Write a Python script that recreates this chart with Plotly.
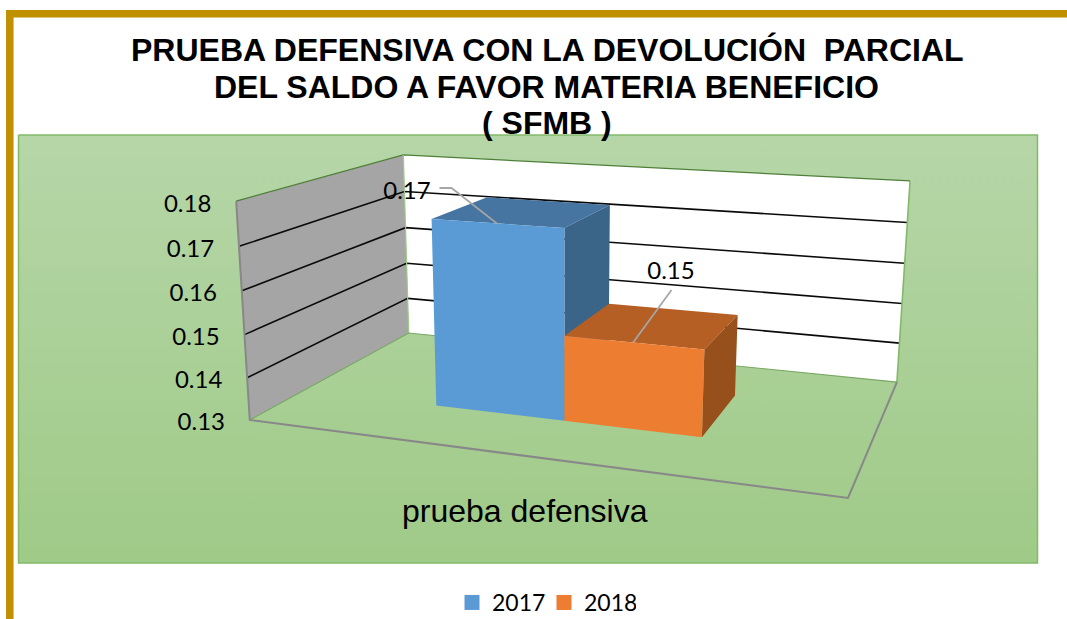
import numpy as np
import plotly.graph_objects as go

# ---- data ----
YEARS = ["2017", "2018"]
VALUES = [0.1742, 0.1499]
AXIS_TICKS = [0.13, 0.14, 0.15, 0.16, 0.17, 0.18]
CATEGORY = "prueba defensiva"
TITLE_LINES = ["PRUEBA DEFENSIVA CON LA DEVOLUCIÓN\u00a0\u00a0PARCIAL",
               "DEL SALDO A FAVOR MATERIA BENEFICIO",
               "( SFMB )"]

# ---- styles ----
FRONT = ["#5B9BD5", "#ED7D31"]
TOP = ["#4675A2", "#B55F24"]
SIDE = ["#3A6488", "#97501C"]
GOLD = "#BF9000"
FONT = "Lato"

# ---- pseudo-3D scale: (x across, depth, value) -> plot axes ----
PROJ = np.array([[473.03812559567626, 257.07761294413393, -23.418241062862666, 249.79289834942966],
                 [4.452430799153005, -6.99070321694181, -227.22737423786657, 419.96797749845],
                 [-0.14765168030115206, 0.24018020115136096, -0.04149489628558456, 1.0]])
VMIN, VMAX = AXIS_TICKS[0], AXIS_TICKS[-1]


def pt(x, d, v):
    q = PROJ @ np.array([x, d, (v - VMIN) / (VMAX - VMIN), 1.0])
    return q[0] / q[2], q[1] / q[2]


def xs_ys(points):
    a = [pt(*p) for p in points]
    return [c[0] for c in a], [c[1] for c in a]


fig = go.Figure()


def poly(points, color, name=None):
    x, y = xs_ys(points)
    fig.add_trace(go.Scatter(x=x + x[:1], y=y + y[:1], mode="lines", fill="toself", fillcolor=color,
                             line=dict(width=0, color=color), showlegend=False, hoverinfo="skip", name=name))


def edge(points, color, width):
    x, y = xs_ys(points)
    fig.add_trace(go.Scatter(x=x, y=y, mode="lines", line=dict(color=color, width=width),
                             showlegend=False, hoverinfo="skip"))


def screen_line(x, y, color, width):
    fig.add_trace(go.Scatter(x=x, y=y, mode="lines", line=dict(color=color, width=width),
                             showlegend=False, hoverinfo="skip"))


# green panel
fig.add_trace(go.Scatter(x=[18.5, 1037.5, 1037.5, 18.5, 18.5], y=[135, 135, 563, 563, 135], mode="lines",
                         fill="toself", line=dict(color="#82BA69", width=1.5),
                         fillgradient=dict(type="vertical",
                                           colorscale=[[0, "#9FCA87"], [1, "#B6D6A8"]]),
                         showlegend=False, hoverinfo="skip"))

# gold frame
screen_line([9.8, 9.8, 1067], [619, 13.8, 13.8], GOLD, 7.5)

# walls
poly([(0, 1, VMIN), (1, 1, VMIN), (1, 1, VMAX), (0, 1, VMAX)], "#FFFFFF")
poly([(0, 0, VMIN), (0, 1, VMIN), (0, 1, VMAX), (0, 0, VMAX)], "#A5A5A5")
for t in AXIS_TICKS[1:-1]:
    edge([(0, 0, t), (0, 1, t), (1, 1, t)], "#0A0A0A", 1.6)
edge([(0, 0, VMAX), (0, 1, VMAX), (1, 1, VMAX)], "#4E7F38", 1.2)
edge([(1, 1, VMAX), (1, 1, VMIN)], "#82BA69", 1.6)
edge([(0, 1, VMAX), (0, 1, VMIN)], "#9CCB85", 1.2)
edge([(0, 0, VMIN), (0, 1, VMIN), (1, 1, VMIN)], "#78A862", 1.1)
edge([(0, 0, VMAX), (0, 0, VMIN), (1, 0, VMIN), (1, 1, VMIN)], "#888888", 2)

# bars
BAR_EDGES = [(0.262, 0.5), (0.5, 0.738)]
D0, D1 = 0.30, 0.695
for i, val in enumerate(VALUES):
    x0, x1 = BAR_EDGES[i]
    poly([(x0, D1, val), (x1, D1, val), (x1, D0, val), (x0, D0, val)], TOP[i])
    poly([(x1, D0, VMIN), (x1, D1, VMIN), (x1, D1, val), (x1, D0, val)], SIDE[i])
    poly([(x0, D0, VMIN), (x1, D0, VMIN), (x1, D0, val), (x0, D0, val)], FRONT[i])

# leader lines to the front-top edge of each bar
LABEL_POS = [(407, 192.5), (671, 272.5)]
for i, val in enumerate(VALUES):
    ex, ey = pt(sum(BAR_EDGES[i]) / 2, D0, val)
    if i == 0:
        screen_line([439.5, 451.5, ex], [188, 188, ey], "#A6A6A6", 1.8)
    else:
        screen_line([671.5, ex], [290, ey], "#A6A6A6", 1.8)

# value labels
fig.add_trace(go.Scatter(x=[p[0] for p in LABEL_POS], y=[p[1] for p in LABEL_POS], mode="text",
                         text=[f"{v:.2f}" for v in VALUES], textposition="middle center",
                         textfont=dict(family=FONT, size=24, color="#000000"),
                         showlegend=False, hoverinfo="skip"))

# value-axis labels
tx, ty = xs_ys([(0, 0, t) for t in AXIS_TICKS])
fig.add_trace(go.Scatter(x=[c - 48.5 for c in tx], y=[c + 4.5 for c in ty], mode="text",
                         text=[f"{t:.2f}" for t in AXIS_TICKS], textposition="middle center",
                         textfont=dict(family=FONT, size=24, color="#000000"),
                         showlegend=False, hoverinfo="skip"))

# legend entries
for name, col in zip(YEARS, FRONT):
    fig.add_trace(go.Scatter(x=[None], y=[None], mode="markers", name=name,
                             marker=dict(symbol="square", size=15, color=col), hoverinfo="skip"))

ann = []
for line, yy, xx in zip(TITLE_LINES, [50, 87, 122.5], [547, 546, 546.5]):
    ann.append(dict(x=xx, y=yy, xref="x", yref="y", text=f"<b>{line}</b>", showarrow=False,
                    font=dict(family="Liberation Sans", size=32, color="#000000"),
                    xanchor="center", yanchor="middle"))
ann.append(dict(x=524.5, y=511, xref="x", yref="y", text=CATEGORY, showarrow=False,
                font=dict(family="Liberation Sans", size=32, color="#000000"),
                xanchor="center", yanchor="middle"))

fig.update_layout(
    width=1067, height=619, autosize=False,
    margin=dict(l=0, r=0, t=0, b=0, pad=0, autoexpand=False),
    paper_bgcolor="#FFFFFF", plot_bgcolor="#FFFFFF",
    xaxis=dict(range=[0, 1067], visible=False, fixedrange=True),
    yaxis=dict(range=[619, 0], visible=False, fixedrange=True),
    annotations=ann,
    showlegend=True,
    legend=dict(orientation="h", x=452 / 1067, y=1 - 581 / 619, xanchor="left", yanchor="top",
                font=dict(family=FONT, size=23, color="#000000"), bgcolor="rgba(0,0,0,0)",
                itemwidth=30, entrywidth=47, entrywidthmode="pixels"),
)
fig.write_html("out.html", config={"displayModeBar": False},
               post_script="document.body.style.margin='0';document.body.style.overflow='hidden';")
